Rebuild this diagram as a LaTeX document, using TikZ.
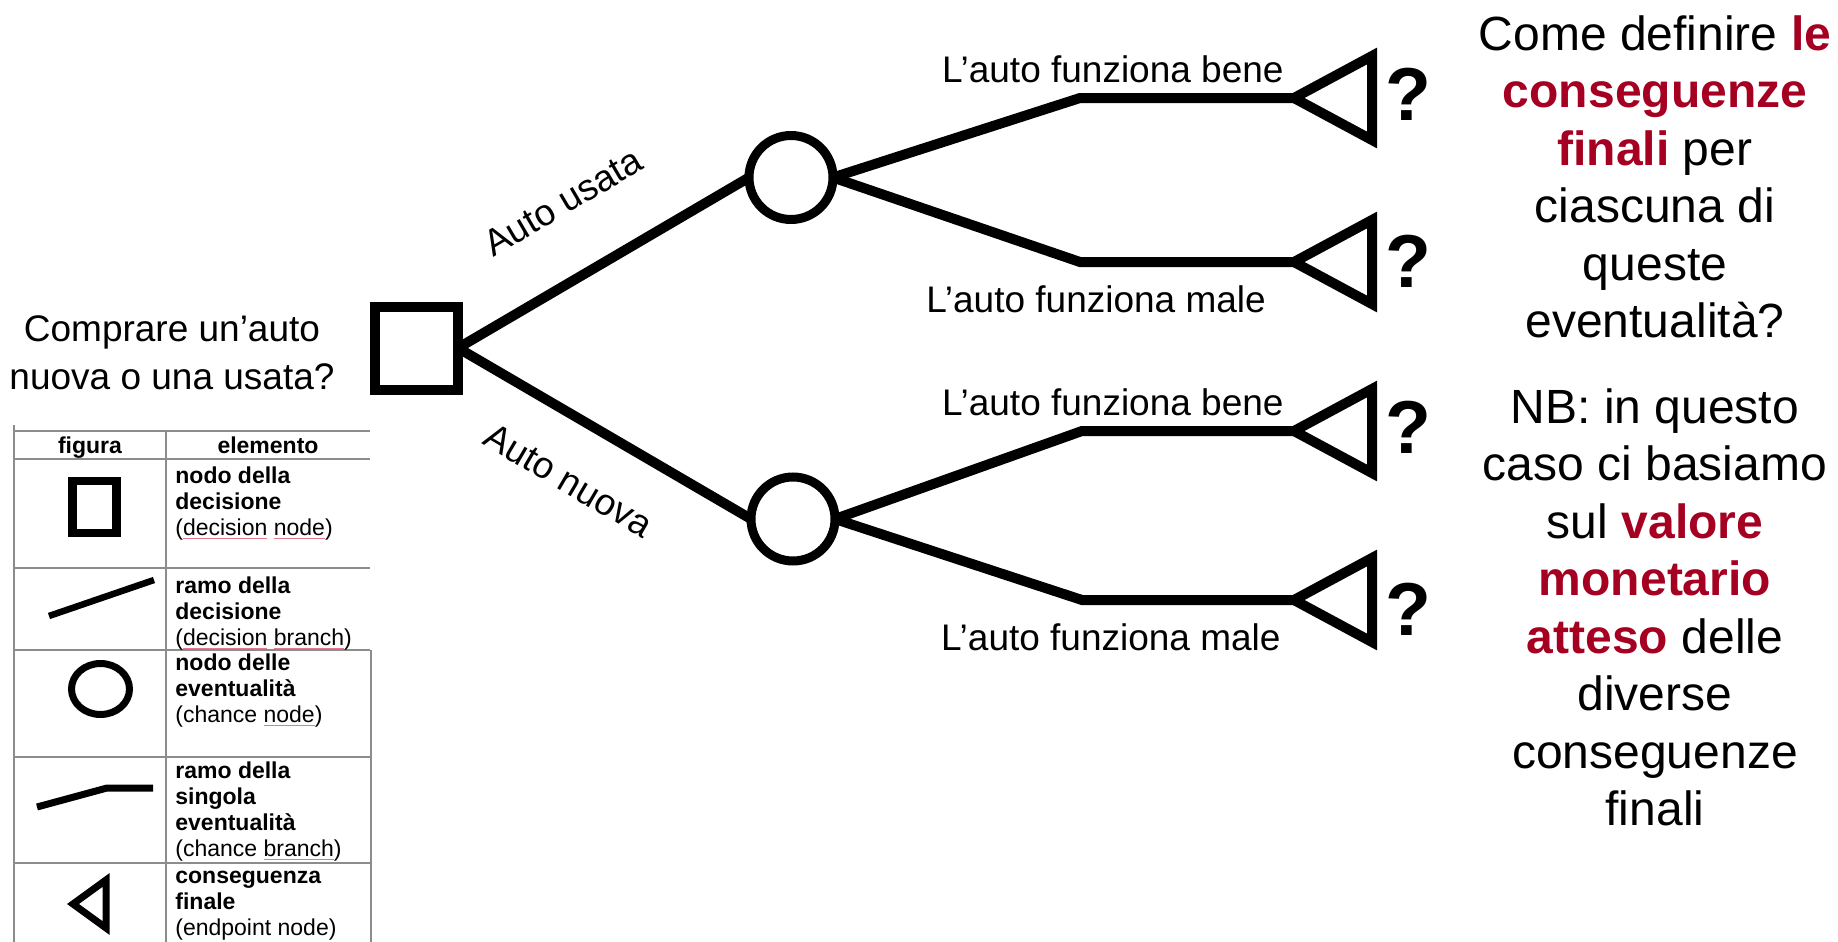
\documentclass[tikz,border=0pt]{standalone}
\usepackage{fontspec}
\setmainfont{Liberation Sans}
\usetikzlibrary{shapes.geometric}
\definecolor{accent}{RGB}{165,0,33}
\definecolor{tablegray}{RGB}{140,140,140}
\definecolor{sqcol}{RGB}{228,120,140}
\newcommand\sqw[1]{{\color{sqcol}\underline{\color{black}#1}}}
\newcommand\hl[1]{\textcolor{accent}{\textbf{#1}}}
\begin{document}
\begin{tikzpicture}[x=0.5pt,y=-0.5pt,
  branch/.style={line width=5pt, line join=miter, line cap=butt},
  decbox/.style={draw, line width=5pt, minimum size=41.5pt, inner sep=0pt, outer sep=0pt},
  chancenode/.style={circle, draw, line width=4.5pt, minimum size=42pt, inner sep=0pt, outer sep=0pt},
  endtri/.style={line width=5pt, line join=miter},
  lbl/.style={font=\fontsize{18.5}{24}\selectfont, inner sep=0pt},
  qmark/.style={font=\fontsize{37.5}{45}\selectfont\bfseries, inner sep=0pt},
  side/.style={font=\fontsize{24}{28.75}\selectfont, align=center, inner sep=0pt, anchor=north},
  legtxt/.style={font=\fontsize{11.5}{13}\selectfont, align=left, inner sep=0pt, anchor=north west},
  leghead/.style={font=\fontsize{11.5}{13}\selectfont\bfseries, inner sep=0pt, anchor=base},
  grid/.style={draw=tablegray, line width=1pt},
  legline/.style={line width=3.5pt, line join=miter},
]
\useasboundingbox (0,0) rectangle (1838,942);

% ---------- decision tree ----------
\node[decbox] (sq) at (416.5,348) {};
\node[chancenode] (c1) at (791,177.5) {};
\node[chancenode] (c2) at (793,519) {};

\draw[branch] (sq.east) -- (c1.west);
\draw[branch] (sq.east) -- (c2.west);

\node[lbl, rotate=30.5] (lusata) at (563,202) {Auto usata};
\node[lbl, rotate=-30.5] (lnuova) at (568.5,480.5) {Auto nuova};

\coordinate (k1) at (1080,98);
\coordinate (k2) at (1080,262);
\coordinate (k3) at (1082,431);
\coordinate (k4) at (1082,600);
\coordinate (t1) at (1294,98);
\coordinate (t2) at (1294,262);
\coordinate (t3) at (1294,431);
\coordinate (t4) at (1294,600);

\draw[branch] (c1.east) -- (k1) -- (t1);
\draw[branch] (c1.east) -- (k2) -- (t2);
\draw[branch] (c2.east) -- (k3) -- (t3);
\draw[branch] (c2.east) -- (k4) -- (t4);

\draw[endtri] (t1) -- ++(78,-42) -- ++(0,84) -- cycle;
\draw[endtri] (t2) -- ++(78,-42) -- ++(0,84) -- cycle;
\draw[endtri] (t3) -- ++(78,-42) -- ++(0,84) -- cycle;
\draw[endtri] (t4) -- ++(78,-42) -- ++(0,84) -- cycle;

\node[qmark, anchor=base west] (q1) at (1385,120) {?};
\node[qmark, anchor=base west] (q2) at (1385,287) {?};
\node[qmark, anchor=base west] (q3) at (1385,453) {?};
\node[qmark, anchor=base west] (q4) at (1385,635) {?};

\node[lbl, anchor=base east] (l1) at (1284,83) {L’auto funziona bene};
\node[lbl, anchor=base west] (l2) at (926,312) {L’auto funziona male};
\node[lbl, anchor=base east] (l3) at (1284,415) {L’auto funziona bene};
\node[lbl, anchor=base east] (l4) at (1281,650) {L’auto funziona male};

\node[lbl, align=center, anchor=north] (quest) at (172,307.4) {\strut Comprare un’auto\\nuova o una usata?};

% ---------- right-hand text ----------
\node[side] (txt1) at (1655,9.75) {\strut Come definire \hl{le}\\\hl{conseguenze}\\\hl{finali} per\\ciascuna di\\queste\\eventualità?};
\node[side] (txt2) at (1655,382.75) {\strut NB: in questo\\caso ci basiamo\\sul \hl{valore}\\\hl{monetario}\\\hl{atteso} delle\\diverse\\conseguenze\\finali};

% ---------- legend table ----------
\foreach \yy in {431,459,568,650,757,863} {\draw[grid] (14,\yy) -- (370,\yy);}
\draw[grid] (14,425) -- (14,942);
\draw[grid] (166,431) -- (166,942);
\draw[grid] (371,650) -- (371,942);

\node[leghead] (hfig) at (90,453) {figura};
\node[leghead] (hel) at (268,453) {elemento};

\node[legtxt] (r1) at (175,464.8) {\strut\textbf{nodo della}\\\textbf{decisione}\\(\sqw{decision} \sqw{node})};
\node[legtxt] (r2) at (175,574.8) {\strut\textbf{ramo della}\\\textbf{decisione}\\(\sqw{decision} \sqw{branch})};
\node[legtxt] (r3) at (175,651.8) {\strut\textbf{nodo delle}\\\textbf{eventualità}\\(chance \sqw{node})};
\node[legtxt] (r4) at (175,759.8) {\strut\textbf{ramo della}\\\textbf{singola}\\\textbf{eventualità}\\(chance \sqw{branch})};
\node[legtxt] (r5) at (175,864.8) {\strut\textbf{conseguenza}\\\textbf{finale}\\(endpoint node)};

\node[draw, line width=4.25pt, minimum width=22pt, minimum height=26pt, inner sep=0pt] (lsq) at (94.5,507) {};
\coordinate (lb1) at (49,616);
\coordinate (lb2) at (154,580);
\draw[line width=3.25pt] (lb1) -- (lb2);
\node[ellipse, draw, line width=3.5pt, minimum width=29pt, minimum height=25.5pt, inner sep=0pt] (lci) at (100.5,689) {};
\coordinate (lc1) at (37,807);
\coordinate (lc2) at (107,788);
\coordinate (lc3) at (153,788);
\draw[legline] (lc1) -- (lc2) -- (lc3);
\coordinate (ltip) at (73,904);
\draw[legline] (ltip) -- (106,880) -- (106,928) -- cycle;
\end{tikzpicture}
\end{document}
